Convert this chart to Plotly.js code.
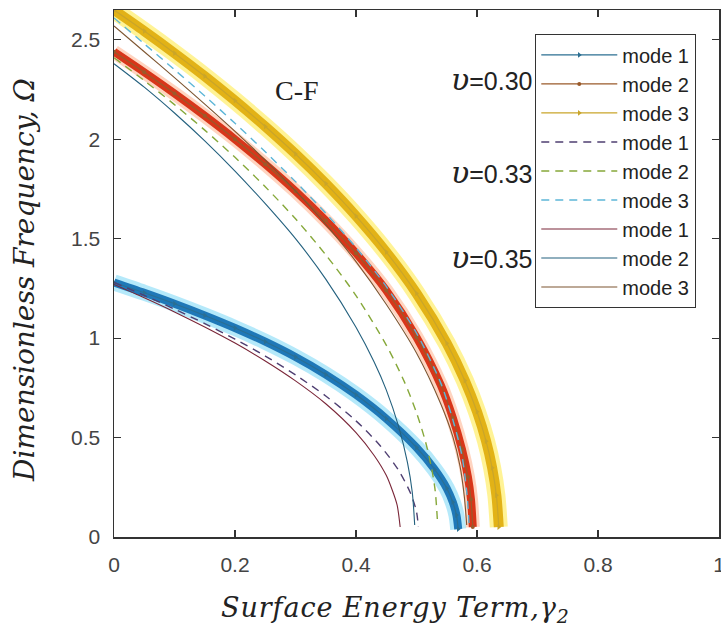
<!DOCTYPE html>
<html>
<head>
<meta charset="utf-8">
<script src="https://cdn.plot.ly/plotly-3.0.1.min.js"></script>
<style>html,body{margin:0;padding:0;background:#fff;}#chart{width:721px;height:632px;}</style>
</head>
<body>
<div id="chart"></div>
<script>
// ---- data ----
const legendNames = ["mode 1","mode 2","mode 3","mode 1","mode 2","mode 3","mode 1","mode 2","mode 3"];
const nuLabels = ["0.30","0.33","0.35"];
const xTitle = "Surface Energy Term,γ<sub>2</sub>";
const yTitle = "Dimensionless Frequency, Ω";
const caseLabel = "C-F";
const xTickVals = [0,0.2,0.4,0.6,0.8,1];
const xTickText = ["0","0.2","0.4","0.6","0.8","1"];
const yTickVals = [0,0.5,1,1.5,2,2.5];
const yTickText = ["0","0.5","1","1.5","2","2.5"];

// nu = 0.30
const gamma_v30_m1 = [0,0.05,0.1,0.15,0.2,0.25,0.3,0.35,0.4,0.45,0.5,0.53,0.55,0.56,0.566,0.569];
const omega_v30_m1 = [1.280,1.228,1.173,1.114,1.051,0.982,0.905,0.817,0.715,0.595,0.450,0.340,0.245,0.175,0.110,0.040];
const gamma_v30_m2 = [0,0.05,0.1,0.15,0.2,0.25,0.3,0.35,0.4,0.45,0.5,0.54,0.56,0.575,0.585,0.59,0.593];
const omega_v30_m2 = [2.440,2.337,2.230,2.118,2.000,1.874,1.739,1.591,1.427,1.240,1.005,0.765,0.600,0.442,0.302,0.190,0.050];
const gamma_v30_m3 = [0,0.05,0.1,0.15,0.2,0.25,0.3,0.35,0.4,0.45,0.5,0.55,0.58,0.6,0.615,0.625,0.632,0.636];
const omega_v30_m3 = [2.650,2.544,2.433,2.317,2.194,2.064,1.926,1.777,1.614,1.433,1.225,0.974,0.786,0.630,0.482,0.348,0.210,0.050];
// nu = 0.33
const gamma_v33_m1 = [0,0.05,0.1,0.15,0.2,0.25,0.3,0.35,0.4,0.44,0.47,0.49,0.5,0.503];
const omega_v33_m1 = [1.280,1.215,1.146,1.073,0.995,0.910,0.815,0.709,0.584,0.459,0.337,0.221,0.127,0.050];
const gamma_v33_m2 = [0,0.05,0.1,0.15,0.2,0.25,0.3,0.35,0.4,0.45,0.48,0.5,0.515,0.525,0.531,0.535];
const omega_v33_m2 = [2.410,2.295,2.174,2.046,1.909,1.761,1.600,1.419,1.214,0.965,0.780,0.625,0.478,0.345,0.230,0.060];
const gamma_v33_m3 = [0,0.05,0.1,0.15,0.2,0.25,0.3,0.35,0.4,0.45,0.5,0.54,0.56,0.575,0.583,0.587];
const omega_v33_m3 = [2.610,2.480,2.350,2.218,2.080,1.937,1.787,1.628,1.455,1.260,1.025,0.775,0.590,0.410,0.230,0.060];
// nu = 0.35
const gamma_v35_m1 = [0,0.05,0.1,0.15,0.2,0.25,0.3,0.35,0.4,0.43,0.45,0.46,0.468,0.473];
const omega_v35_m1 = [1.270,1.203,1.132,1.056,0.975,0.885,0.785,0.670,0.525,0.410,0.310,0.235,0.160,0.050];
const gamma_v35_m2 = [0,0.05,0.1,0.15,0.2,0.25,0.3,0.35,0.4,0.43,0.45,0.47,0.485,0.493,0.497];
const omega_v35_m2 = [2.380,2.262,2.132,1.992,1.840,1.676,1.500,1.297,1.055,0.880,0.740,0.560,0.375,0.225,0.060];
const gamma_v35_m3 = [0,0.05,0.1,0.15,0.2,0.25,0.3,0.35,0.4,0.45,0.5,0.54,0.56,0.572,0.579,0.583];
const omega_v35_m3 = [2.570,2.440,2.310,2.177,2.040,1.895,1.740,1.572,1.385,1.170,0.925,0.670,0.505,0.355,0.205,0.060];

// ---- traces ----
const sp = {shape:'spline', smoothing:0.8};
function band(x, y, color, width){
  return {x:x, y:y, type:'scatter', mode:'lines', showlegend:false, hoverinfo:'skip',
          line:Object.assign({color:color, width:width}, sp)};
}
function curve(x, y, name, color, width, dash, marker){
  const t = {x:x, y:y, type:'scatter', name:name, mode: marker ? 'lines+markers' : 'lines',
             line:Object.assign({color:color, width:width, dash:dash||'solid'}, sp)};
  if (marker) t.marker = marker;
  return t;
}

const data = [
  band(gamma_v30_m1, omega_v30_m1, 'rgba(120,215,245,0.55)', 16),
  band(gamma_v30_m1, omega_v30_m1, '#1f78b8', 8),
  band(gamma_v30_m2, omega_v30_m2, 'rgba(255,170,130,0.5)', 14),
  band(gamma_v30_m2, omega_v30_m2, '#d8361a', 8),
  band(gamma_v30_m3, omega_v30_m3, 'rgba(255,235,80,0.6)', 18),
  band(gamma_v30_m3, omega_v30_m3, '#e2b216', 10),
  curve(gamma_v30_m1, omega_v30_m1, legendNames[0], '#2b6f92', 1.2, 'solid', {symbol:'triangle-right', size:5, color:'#2b6f92'}),
  curve(gamma_v30_m2, omega_v30_m2, legendNames[1], '#9a5a2a', 1.2, 'solid', {symbol:'circle', size:4, color:'#9a5a2a'}),
  curve(gamma_v30_m3, omega_v30_m3, legendNames[2], '#c9a52a', 1.2, 'solid', {symbol:'triangle-right', size:5, color:'#c9a52a'}),
  curve(gamma_v33_m1, omega_v33_m1, legendNames[3], '#4f3f72', 1.4, '8px,6px'),
  curve(gamma_v33_m2, omega_v33_m2, legendNames[4], '#86a83a', 1.4, '8px,6px'),
  curve(gamma_v33_m3, omega_v33_m3, legendNames[5], '#5db6d8', 1.4, '8px,6px'),
  curve(gamma_v35_m1, omega_v35_m1, legendNames[6], '#7a2638', 1.1),
  curve(gamma_v35_m2, omega_v35_m2, legendNames[7], '#23607e', 1.1),
  curve(gamma_v35_m3, omega_v35_m3, legendNames[8], '#7d5530', 1.1)
];

const tickFont = {family:'Liberation Sans, Arial, sans-serif', size:21, color:'#444'};
const titleFont = {family:'DejaVu Serif, serif', size:27, style:'italic', color:'#222'};

function nuAnno(label, yp){
  return {xref:'paper', yref:'paper', x:0.696, y:yp, xanchor:'right', yanchor:'middle', showarrow:false,
    text:'<span style="font-family:DejaVu Serif;font-style:italic;font-size:30px">υ</span>=' + label,
    font:{family:'Liberation Sans, Arial, sans-serif', size:25, color:'#222'}};
}

const layout = {
  width:721, height:632,
  margin:{l:114, r:2, t:10, b:95},
  paper_bgcolor:'#fff', plot_bgcolor:'#fff',
  showlegend:true,
  legend:{x:0.696, y:0.954, xanchor:'left', yanchor:'top', bgcolor:'#fff',
          bordercolor:'#333', borderwidth:1.2, font:{family:'Liberation Sans, Arial, sans-serif', size:20, color:'#222'},
          itemwidth:76, tracegroupgap:0},
  xaxis:{range:[0,1], tickvals:xTickVals, ticktext:xTickText, ticks:'inside', ticklen:7, tickwidth:1.2, tickcolor:'#333',
         showline:true, linecolor:'#333', linewidth:1.5, mirror:'ticks', showgrid:false, zeroline:false,
         tickfont:tickFont, ticklabelstandoff:8, ticklabeloverflow:'allow', automargin:false},
  yaxis:{range:[0,2.65], tickvals:yTickVals, ticktext:yTickText, ticks:'inside', ticklen:7, tickwidth:1.2, tickcolor:'#333',
         showline:true, linecolor:'#333', linewidth:1.5, mirror:'ticks', showgrid:false, zeroline:false,
         tickfont:tickFont, ticklabelstandoff:8, ticklabeloverflow:'allow', automargin:false},
  annotations:[
    {xref:'paper', yref:'paper', x:0.466, y:-0.137, xanchor:'center', yanchor:'middle', showarrow:false,
     text:'<span style="letter-spacing:0.9px">' + xTitle + '</span>', font:titleFont},
    {xref:'paper', yref:'paper', x:-0.147, y:0.488, xanchor:'center', yanchor:'middle', showarrow:false, textangle:-90,
     text:yTitle, font:Object.assign({}, titleFont, {size:28})},
    {xref:'paper', yref:'paper', x:0.3025, y:0.848, xanchor:'center', yanchor:'middle', showarrow:false,
     text:caseLabel, font:{family:'Liberation Serif, Times New Roman, serif', size:28, color:'#222'}},
    nuAnno(nuLabels[0], 0.869),
    nuAnno(nuLabels[1], 0.691),
    nuAnno(nuLabels[2], 0.531)
  ]
};

Plotly.newPlot('chart', data, layout, {displayModeBar:false, staticPlot:true});
</script>
</body>
</html>
